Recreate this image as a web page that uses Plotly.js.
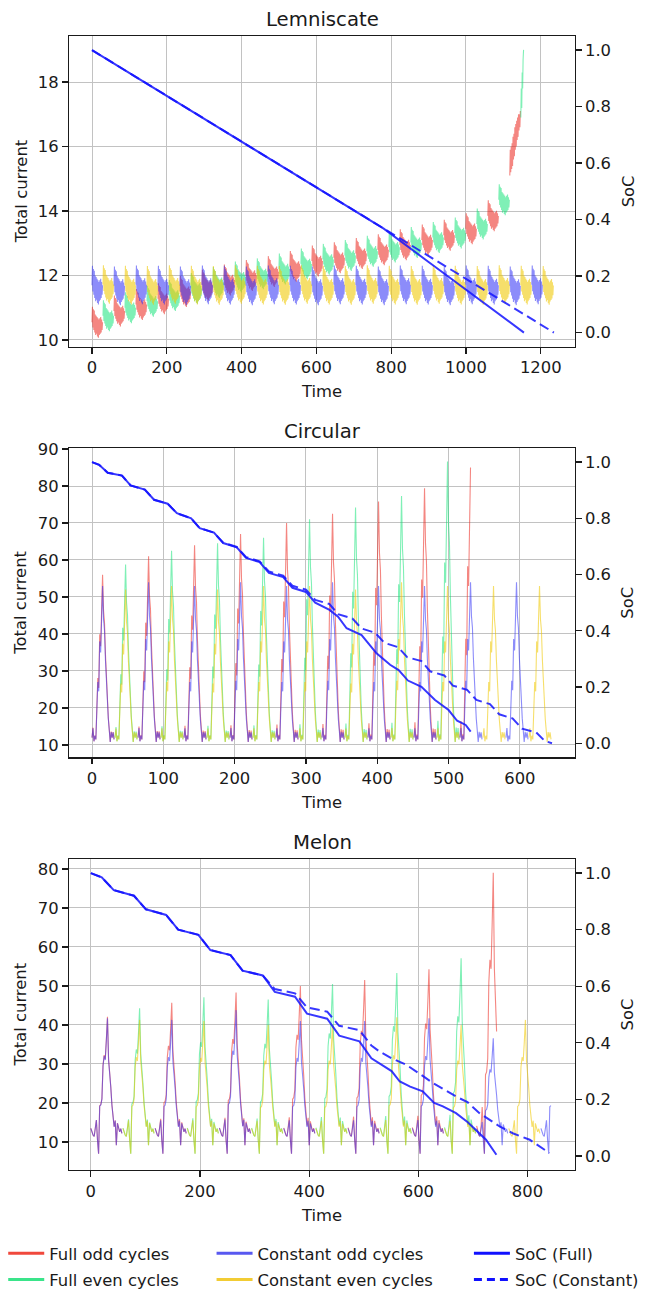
<!DOCTYPE html>
<html><head><meta charset="utf-8">
<script src="https://cdn.plot.ly/plotly-3.0.1.min.js"></script>
<style>html,body{margin:0;padding:0;background:#fff}</style>
</head><body>
<div id="chart" style="width:645px;height:1291px"></div>
<script>
// ================= DATA =================
// ---- Lemniscate ----
const lemCycleLength = 29.4;
const lemFullEnd = 1155;
const lemConstEnd = 1235;
const lemCycleShape = [0.0, 0.6, -0.2, 0.5, -0.3, 0.45, -0.4, 0.3, -0.5, 0.25, -0.45, 0.2, -0.55, 0.15, -0.6, 0.1, -0.5, 0.15, -0.45, 0.2, -0.4, 0.1, -0.3, 0.0];
const lemFullSpread = 0.8;
const lemFullLevel = [10.55, 10.75, 10.9, 11.0, 11.1, 11.2, 11.28, 11.38, 11.5, 11.6, 11.7, 11.78, 11.86, 11.95, 12.0, 12.05, 12.12, 12.2, 12.28, 12.36, 12.45, 12.5, 12.55, 12.62, 12.68, 12.75, 12.8, 12.88, 12.95, 13.02, 13.1, 13.18, 13.25, 13.32, 13.45, 13.6, 13.85, 14.35];
const lemFullCycle38 = [15.1, 15.9, 15.2, 16.0, 15.3, 16.1, 15.4, 16.3, 15.6, 16.4, 15.7, 16.6, 15.9, 16.7, 16.0, 16.8, 16.2, 16.9, 16.3, 17.0, 16.5, 17.0, 16.6, 17.1];
const lemFullCycle39 = [16.9, 17.8, 17.2, 18.3, 17.8, 18.7, 19.0];
const lemConstLevel = [11.7, 11.72, 11.68, 11.7, 11.71, 11.69, 11.7, 11.72, 11.68, 11.7, 11.71, 11.69, 11.7, 11.72, 11.68, 11.7, 11.71, 11.69, 11.7, 11.72, 11.68, 11.7, 11.71, 11.69, 11.7, 11.72, 11.68, 11.7, 11.71, 11.69, 11.7, 11.72, 11.68, 11.7, 11.71, 11.69, 11.7, 11.72, 11.68, 11.7, 11.71, 11.69];
const lemSocFullTime = [0, 200, 400, 600, 780, 900, 1000, 1100, 1155];
const lemSocFull = [1.0, 0.838, 0.676, 0.514, 0.368, 0.25, 0.152, 0.053, 0.0];
const lemSocConstTime = [0, 400, 800, 1235];
const lemSocConst = [1.0, 0.676, 0.352, 0.0];

// ---- Circular ----
const circCycleLength = 32.25;
const circFullEnd = 531;
const circConstEnd = 645;
const circCycleShape = [12, 14.5, 11, 12.5, 11.5, 22, 27, 24.5, 38, 35, 42, 53, 44, 41, 33, 26, 24, 17, 14, 10.8, 13.5, 12, 13.4, 11.5];
const circShapeLow = 12;
const circShapePeak = 53;
const circFullPeak = [56, 58.8, 61, 62.5, 64, 64.5, 67, 66, 70, 71, 72.5, 74.2, 75.8, 77.3, 79.4, 86.6, 85];
const circConstPeak = [53, 52, 54, 53, 53, 52, 54, 53, 53, 53, 54, 52, 53, 54, 53, 53, 54, 53, 54, 53];
const circSocFullTime = [0, 10, 22, 42, 54, 74, 87, 106, 119, 139, 151, 171, 184, 203, 216, 235, 248, 268, 281, 300, 313, 333, 345, 357, 378, 399, 418, 430, 443, 462, 481, 500, 512, 524, 531];
const circSocFull = [1.0, 0.99, 0.962, 0.952, 0.917, 0.902, 0.866, 0.852, 0.818, 0.80, 0.765, 0.749, 0.712, 0.697, 0.659, 0.644, 0.606, 0.591, 0.553, 0.538, 0.50, 0.474, 0.45, 0.409, 0.385, 0.32, 0.279, 0.26, 0.223, 0.201, 0.154, 0.118, 0.08, 0.065, 0.041];
const circSocConstTime = [0, 10, 22, 42, 54, 74, 87, 106, 119, 139, 151, 171, 184, 203, 216, 235, 248, 268, 281, 300, 313, 333, 345, 365, 378, 397, 410, 429, 442, 462, 474, 494, 506, 526, 539, 558, 571, 590, 603, 623, 635, 645];
const circSocConst = [1.0, 0.99, 0.962, 0.952, 0.917, 0.902, 0.866, 0.852, 0.818, 0.80, 0.765, 0.749, 0.713, 0.698, 0.662, 0.647, 0.611, 0.596, 0.560, 0.546, 0.510, 0.495, 0.459, 0.444, 0.408, 0.393, 0.357, 0.342, 0.306, 0.292, 0.256, 0.241, 0.205, 0.190, 0.154, 0.139, 0.103, 0.088, 0.052, 0.038, 0.008, 0.0];

// ---- Melon ----
const melonCycleLength = 58.9;
const melonFullEnd = 745;
const melonConstEnd = 843;
const melonCycleShape = [13.5, 12.5, 11.8, 11.4, 13.5, 15.6, 10.5, 7.0, 19.2, 19.5, 21.0, 29.5, 32.0, 31.0, 36.0, 41.7, 31.0, 28.0, 24.0, 19.5, 16.0, 13.9, 15.5, 9.2, 14.8, 13.9, 12.6, 13.4, 12.2];
const melonShapeLow = 13;
const melonShapePeak = 41.7;
const melonFullPeak = [42.1, 44.3, 45.7, 47.1, 48.3, 46.5, 50, 50.5, 51.5, 53.3, 54.3, 57.1, 79];
const melonConstPeak = [41.7, 41.3, 41.3, 41, 43.8, 40, 41, 40, 41, 42, 41.7, 40, 36.6, 41.3, 41];
const melonSocFullTime = [0, 20, 42, 79, 101, 138, 160, 197, 219, 256, 278, 315, 337, 374, 396, 433, 455, 492, 514, 529, 551, 566, 585, 608, 629, 645, 669, 690, 712, 724, 743];
const melonSocFull = [1.0, 0.985, 0.94, 0.92, 0.872, 0.852, 0.80, 0.782, 0.728, 0.71, 0.655, 0.638, 0.58, 0.563, 0.503, 0.485, 0.425, 0.405, 0.345, 0.328, 0.30, 0.263, 0.245, 0.228, 0.187, 0.175, 0.151, 0.12, 0.08, 0.057, 0.004];
const melonSocConstTime = [0, 20, 42, 79, 101, 138, 160, 197, 219, 256, 278, 315, 337, 374, 396, 433, 455, 492, 514, 529, 551, 578, 610, 627, 669, 690, 712, 749, 773, 804, 840];
const melonSocConst = [1.0, 0.985, 0.94, 0.92, 0.872, 0.852, 0.80, 0.782, 0.728, 0.71, 0.655, 0.638, 0.59, 0.575, 0.525, 0.51, 0.46, 0.445, 0.39, 0.369, 0.345, 0.322, 0.28, 0.257, 0.21, 0.19, 0.151, 0.104, 0.08, 0.057, 0.01];

const seriesNames = ['Full odd cycles', 'Full even cycles', 'Constant odd cycles', 'Constant even cycles', 'SoC (Full)', 'SoC (Constant)'];
const plotTitles = ['Lemniscate', 'Circular', 'Melon'];
const axisTitles = {x: 'Time', yLeft: 'Total current', yRight: 'SoC'};

// ================= BUILD =================
function buildCycles(len, nPer, end, cycles) {
  const odd = {x: [], y: []}, even = {x: [], y: []};
  const step = len / nPer;
  cycles.forEach((vals, k) => {
    const tr = (k % 2 === 0) ? odd : even;
    for (let j = 0; j < vals.length; j++) {
      const t = k * len + j * step;
      if (t > end + 1e-9) break;
      tr.x.push(+t.toFixed(3)); tr.y.push(vals[j]);
    }
    tr.x.push(null); tr.y.push(null);
  });
  return {odd, even};
}
function scaled(shape, low, shapePeak, peak) {
  return shape.map(s => s > low ? +(low + (s - low) * (peak - low) / (shapePeak - low)).toFixed(2) : s);
}
const nLem = lemCycleShape.length;
const lemFullCycles = lemFullLevel.map(l => lemCycleShape.map(s => +(l + lemFullSpread * s).toFixed(3)));
lemFullCycles.push(lemFullCycle38, lemFullCycle39);
const lemConstCycles = lemConstLevel.map(l => lemCycleShape.map(s => +(l + s).toFixed(3)));
const lemFull = buildCycles(lemCycleLength, nLem, lemFullEnd, lemFullCycles);
const lemConst = buildCycles(lemCycleLength, nLem, lemConstEnd, lemConstCycles);

const circFull = buildCycles(circCycleLength, circCycleShape.length, circFullEnd,
  circFullPeak.map(p => scaled(circCycleShape, circShapeLow, circShapePeak, p)));
const circConst = buildCycles(circCycleLength, circCycleShape.length, circConstEnd,
  circConstPeak.map(p => scaled(circCycleShape, circShapeLow, circShapePeak, p)));

const melonFull = buildCycles(melonCycleLength, melonCycleShape.length, melonFullEnd,
  melonFullPeak.map(p => scaled(melonCycleShape, melonShapeLow, melonShapePeak, p)));
const melonConst = buildCycles(melonCycleLength, melonCycleShape.length, melonConstEnd,
  melonConstPeak.map(p => scaled(melonCycleShape, melonShapeLow, melonShapePeak, p)));

const plotColors = ['rgba(235,35,25,0.55)', 'rgba(0,225,110,0.5)', 'rgba(45,45,245,0.55)', 'rgba(240,200,0,0.58)'];
const legendColors = ['#f0483c', '#3ae48a', '#5858f0', '#f2cc34'];
const socColor = 'rgba(20,20,255,0.85)';

const panels = [
  {x: 'x', y: 'y', y2: 'y2', full: lemFull, cons: lemConst, sf: [lemSocFullTime, lemSocFull], sc: [lemSocConstTime, lemSocConst]},
  {x: 'x2', y: 'y3', y2: 'y4', full: circFull, cons: circConst, sf: [circSocFullTime, circSocFull], sc: [circSocConstTime, circSocConst]},
  {x: 'x3', y: 'y5', y2: 'y6', full: melonFull, cons: melonConst, sf: [melonSocFullTime, melonSocFull], sc: [melonSocConstTime, melonSocConst]}
];
const traces = [];
panels.forEach(p => {
  [p.full.odd, p.full.even, p.cons.odd, p.cons.even].forEach((d, i) => {
    traces.push({type: 'scatter', mode: 'lines', x: d.x, y: d.y, xaxis: p.x, yaxis: p.y, name: seriesNames[i],
      line: {color: plotColors[i], width: 1.1}, showlegend: false, hoverinfo: 'skip', connectgaps: false});
  });
  traces.push({type: 'scatter', mode: 'lines', x: p.sf[0], y: p.sf[1], xaxis: p.x, yaxis: p.y2, name: seriesNames[4],
    line: {color: socColor, width: 2}, showlegend: false, hoverinfo: 'skip'});
  traces.push({type: 'scatter', mode: 'lines', x: p.sc[0], y: p.sc[1], xaxis: p.x, yaxis: p.y2, name: seriesNames[5],
    line: {color: socColor, width: 2, dash: '10px,5px'}, showlegend: false, hoverinfo: 'skip'});
});
// legend entries
const legendIds = ['legend', 'legend', 'legend2', 'legend2', 'legend3', 'legend3'];
seriesNames.forEach((name, i) => {
  const line = i < 4 ? {color: legendColors[i], width: 3} : {color: '#1010ff', width: 3, dash: i === 5 ? '8px,5px' : 'solid'};
  traces.push({type: 'scatter', mode: 'lines', x: [null], y: [null], name: name, line: line, legendgroup: 'g' + i,
    xaxis: 'x3', yaxis: 'y5', showlegend: true, legend: legendIds[i], hoverinfo: 'skip'});
});

// ================= LAYOUT =================
const F = 'DejaVu Sans, sans-serif';
const txt = '#1a1a1a';
const gridCol = '#c2c2c2';
const tickFont = {family: F, size: 16.4, color: txt};
function xAxis(range, dtick, anchor) {
  return {range: range, dtick: dtick, tick0: 0, anchor: anchor, domain: [0, 1], automargin: false,
    showgrid: true, gridcolor: gridCol, gridwidth: 1, zeroline: false,
    showline: true, mirror: true, linecolor: txt, linewidth: 1.3, tickangle: 0,
    ticks: 'outside', ticklen: 5.7, tickwidth: 1.3, tickcolor: txt, tickfont: tickFont,
    title: {text: axisTitles.x, font: tickFont, standoff: 9}, fixedrange: true};
}
function yLeft(range, dtick, anchor, domain) {
  return {range: range, dtick: dtick, tick0: 0, anchor: anchor, domain: domain, automargin: false,
    showgrid: true, gridcolor: gridCol, gridwidth: 1, zeroline: false,
    showline: true, mirror: true, linecolor: txt, linewidth: 1.3,
    ticks: 'outside', ticklen: 5.7, tickwidth: 1.3, tickcolor: txt, tickfont: tickFont, fixedrange: true};
}
function yRight(over, anchor) {
  return {range: [-0.05, 1.05], dtick: 0.2, tick0: 0, tickformat: '.1f', overlaying: over, side: 'right', anchor: anchor,
    automargin: false, showgrid: false, zeroline: false, showline: false,
    ticks: 'outside', ticklen: 5.7, tickwidth: 1.3, tickcolor: txt, tickfont: tickFont, fixedrange: true};
}
const domains = [[0.72601, 1.0], [0.36393, 0.63668], [0, 0.27425]];
const legendBase = {xref: 'container', yref: 'container', yanchor: 'top', xanchor: 'left',
  y: 1 - 1236 / 1291, bgcolor: 'rgba(0,0,0,0)', font: {family: F, size: 16.4, color: txt},
  itemwidth: 36, traceorder: 'grouped', tracegroupgap: 2, orientation: 'v'};
const annotations = [];
const titleY = [19.4, 431, 842];
plotTitles.forEach((t, i) => {
  annotations.push({text: t, xref: 'paper', yref: 'paper', x: 0.5, y: (1170 - titleY[i]) / 1134,
    showarrow: false, xanchor: 'center', yanchor: 'middle', font: {family: F, size: 19.7, color: txt}});
  const mid = (domains[i][0] + domains[i][1]) / 2;
  annotations.push({text: axisTitles.yLeft, xref: 'paper', yref: 'paper', x: (21 - 69) / 506, y: mid, textangle: -90,
    showarrow: false, xanchor: 'center', yanchor: 'middle', font: tickFont});
  annotations.push({text: axisTitles.yRight, xref: 'paper', yref: 'paper', x: (628 - 69) / 506, y: mid, textangle: -90,
    showarrow: false, xanchor: 'center', yanchor: 'middle', font: tickFont});
});
const layout = {
  width: 645, height: 1291,
  margin: {l: 69, r: 70, t: 36, b: 121, autoexpand: false},
  paper_bgcolor: '#ffffff', plot_bgcolor: '#ffffff',
  font: {family: F, color: txt},
  xaxis: xAxis([-61.5, 1291.5], 200, 'y'),
  yaxis: yLeft([9.79, 19.43], 2, 'x', domains[0]),
  yaxis2: yRight('y', 'x'),
  xaxis2: xAxis([-32.3, 677.3], 100, 'y3'),
  yaxis3: yLeft([6.67, 90.27], 10, 'x2', domains[1]),
  yaxis4: yRight('y3', 'x2'),
  xaxis3: xAxis([-40, 887], 200, 'y5'),
  yaxis5: yLeft([2.82, 82.55], 10, 'x3', domains[2]),
  yaxis6: yRight('y5', 'x3'),
  legend: Object.assign({}, legendBase, {x: 0.005}),
  legend2: Object.assign({}, legendBase, {x: 0.328}),
  legend3: Object.assign({}, legendBase, {x: 0.727}),
  annotations: annotations,
  showlegend: true
};
Plotly.newPlot('chart', traces, layout, {staticPlot: true, displayModeBar: false});
</script>
</body></html>
